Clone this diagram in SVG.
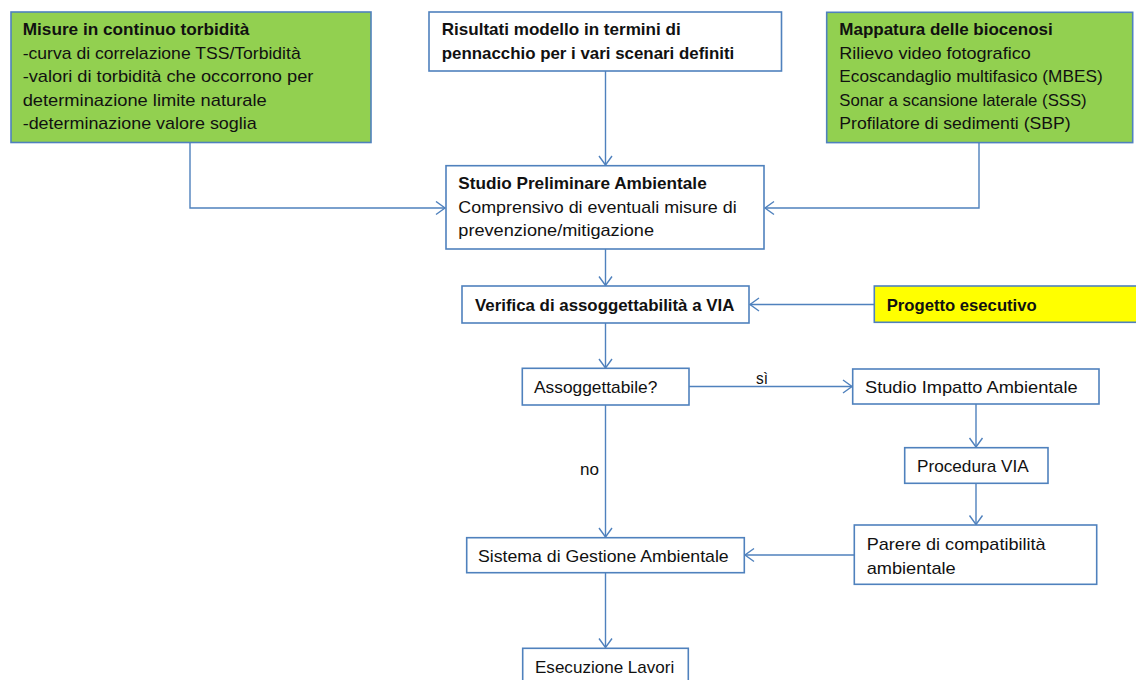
<svg xmlns="http://www.w3.org/2000/svg" width="1136" height="680" viewBox="0 0 1136 680">
<defs>
<style>
.box{fill:#ffffff;stroke:#4f81bd;stroke-width:1.6}
.green{fill:#92d050;stroke:#4f81bd;stroke-width:1.6}
.yellow{fill:#ffff00;stroke:#4f81bd;stroke-width:1.6}
text{font-family:"Liberation Sans",Arial,sans-serif;font-size:17px;fill:#111111}
.b{font-weight:bold}
.conn{fill:none;stroke:#4f81bd;stroke-width:1.4}
</style>
<marker id="arr" markerUnits="userSpaceOnUse" markerWidth="14" markerHeight="16" refX="10" refY="7.5" orient="auto">
<path d="M1,1 L10,7.5 L1,14" fill="none" stroke="#4f81bd" stroke-width="1.4"/>
</marker>
</defs>
<rect width="1136" height="680" fill="#ffffff"/>

<g id="connectors">
<path class="conn" d="M190,143 V208 H445" marker-end="url(#arr)"/>
<path class="conn" d="M979,143 V208 H765" marker-end="url(#arr)"/>
<path class="conn" d="M605.5,71 V165" marker-end="url(#arr)"/>
<path class="conn" d="M605.5,249 V285.5" marker-end="url(#arr)"/>
<path class="conn" d="M874,304.5 H750" marker-end="url(#arr)"/>
<path class="conn" d="M605.5,323 V368" marker-end="url(#arr)"/>
<path class="conn" d="M689,386.5 H852" marker-end="url(#arr)"/>
<path class="conn" d="M605.5,405 V537" marker-end="url(#arr)"/>
<path class="conn" d="M976,404 V447" marker-end="url(#arr)"/>
<path class="conn" d="M976,483.5 V524.5" marker-end="url(#arr)"/>
<path class="conn" d="M854,555 H745" marker-end="url(#arr)"/>
<path class="conn" d="M605.5,573 V647.5" marker-end="url(#arr)"/>
<text x="756" y="384" textLength="12" lengthAdjust="spacingAndGlyphs">sì</text>
<text x="580" y="475" textLength="19" lengthAdjust="spacingAndGlyphs">no</text>
</g>

<g id="misure">
<rect class="green" x="11" y="12" width="360" height="130.5"/>
<text class="b" x="22.7" y="35" textLength="226.6" lengthAdjust="spacingAndGlyphs">Misure in continuo torbidità</text>
<text x="22.7" y="58.5" textLength="278" lengthAdjust="spacingAndGlyphs">-curva di correlazione TSS/Torbidità</text>
<text x="22.7" y="82" textLength="290.7" lengthAdjust="spacingAndGlyphs">-valori di torbidità che occorrono per</text>
<text x="22.7" y="105.5" textLength="244" lengthAdjust="spacingAndGlyphs">determinazione limite naturale</text>
<text x="22.7" y="129" textLength="234" lengthAdjust="spacingAndGlyphs">-determinazione valore soglia</text>
</g>

<g id="risultati">
<rect class="box" x="429" y="12" width="352.5" height="59"/>
<text class="b" x="441.7" y="35" textLength="239" lengthAdjust="spacingAndGlyphs">Risultati modello in termini di</text>
<text class="b" x="441.7" y="59" textLength="292.6" lengthAdjust="spacingAndGlyphs">pennacchio  per i vari scenari definiti</text>
</g>

<g id="mappatura">
<rect class="green" x="826.7" y="12.3" width="306" height="130.3"/>
<text class="b" x="839.3" y="35" textLength="213.4" lengthAdjust="spacingAndGlyphs">Mappatura  delle biocenosi</text>
<text x="839.3" y="58.5" textLength="191.4" lengthAdjust="spacingAndGlyphs">Rilievo video  fotografico</text>
<text x="839.3" y="82" textLength="263.4" lengthAdjust="spacingAndGlyphs">Ecoscandaglio multifasico (MBES)</text>
<text x="839.3" y="105.5" textLength="247.4" lengthAdjust="spacingAndGlyphs">Sonar a scansione laterale (SSS)</text>
<text x="839.3" y="129" textLength="231.4" lengthAdjust="spacingAndGlyphs">Profilatore di sedimenti (SBP)</text>
</g>

<g id="studio-preliminare">
<rect class="box" x="446" y="165.7" width="318" height="83.3"/>
<text class="b" x="458.3" y="189" textLength="248.4" lengthAdjust="spacingAndGlyphs">Studio Preliminare Ambientale</text>
<text x="458.3" y="212.5" textLength="278.4" lengthAdjust="spacingAndGlyphs">Comprensivo di eventuali misure di</text>
<text x="458.3" y="236" textLength="195.7" lengthAdjust="spacingAndGlyphs">prevenzione/mitigazione</text>
</g>

<g id="verifica">
<rect class="box" x="462" y="286" width="287" height="37"/>
<text class="b" x="475" y="310.5" textLength="259.3" lengthAdjust="spacingAndGlyphs">Verifica di assoggettabilità a VIA</text>
</g>

<g id="progetto">
<rect class="yellow" x="874.3" y="286" width="270" height="36.3"/>
<text class="b" x="886.7" y="310.5" textLength="150" lengthAdjust="spacingAndGlyphs">Progetto esecutivo</text>
</g>

<g id="assoggettabile">
<rect class="box" x="522.3" y="368.3" width="166.7" height="36.7"/>
<text x="534" y="393" textLength="123.3" lengthAdjust="spacingAndGlyphs">Assoggettabile?</text>
</g>

<g id="sia">
<rect class="box" x="852.7" y="369" width="246.3" height="35"/>
<text x="865" y="393" textLength="212.7" lengthAdjust="spacingAndGlyphs">Studio Impatto Ambientale</text>
</g>

<g id="procedura">
<rect class="box" x="904.7" y="447.7" width="143.3" height="35.6"/>
<text x="917" y="472" textLength="111.7" lengthAdjust="spacingAndGlyphs">Procedura VIA</text>
</g>

<g id="parere">
<rect class="box" x="854.3" y="525" width="242.4" height="59.3"/>
<text x="866.7" y="550" textLength="179" lengthAdjust="spacingAndGlyphs">Parere di compatibilità</text>
<text x="866.7" y="573.5" textLength="89" lengthAdjust="spacingAndGlyphs">ambientale</text>
</g>

<g id="sistema">
<rect class="box" x="466.7" y="537.7" width="277.6" height="35"/>
<text x="478" y="562" textLength="250.7" lengthAdjust="spacingAndGlyphs">Sistema di Gestione Ambientale</text>
</g>

<g id="esecuzione">
<rect class="box" x="522.7" y="648.3" width="165.6" height="40"/>
<text x="535" y="672.5" textLength="139.3" lengthAdjust="spacingAndGlyphs">Esecuzione Lavori</text>
</g>
</svg>
